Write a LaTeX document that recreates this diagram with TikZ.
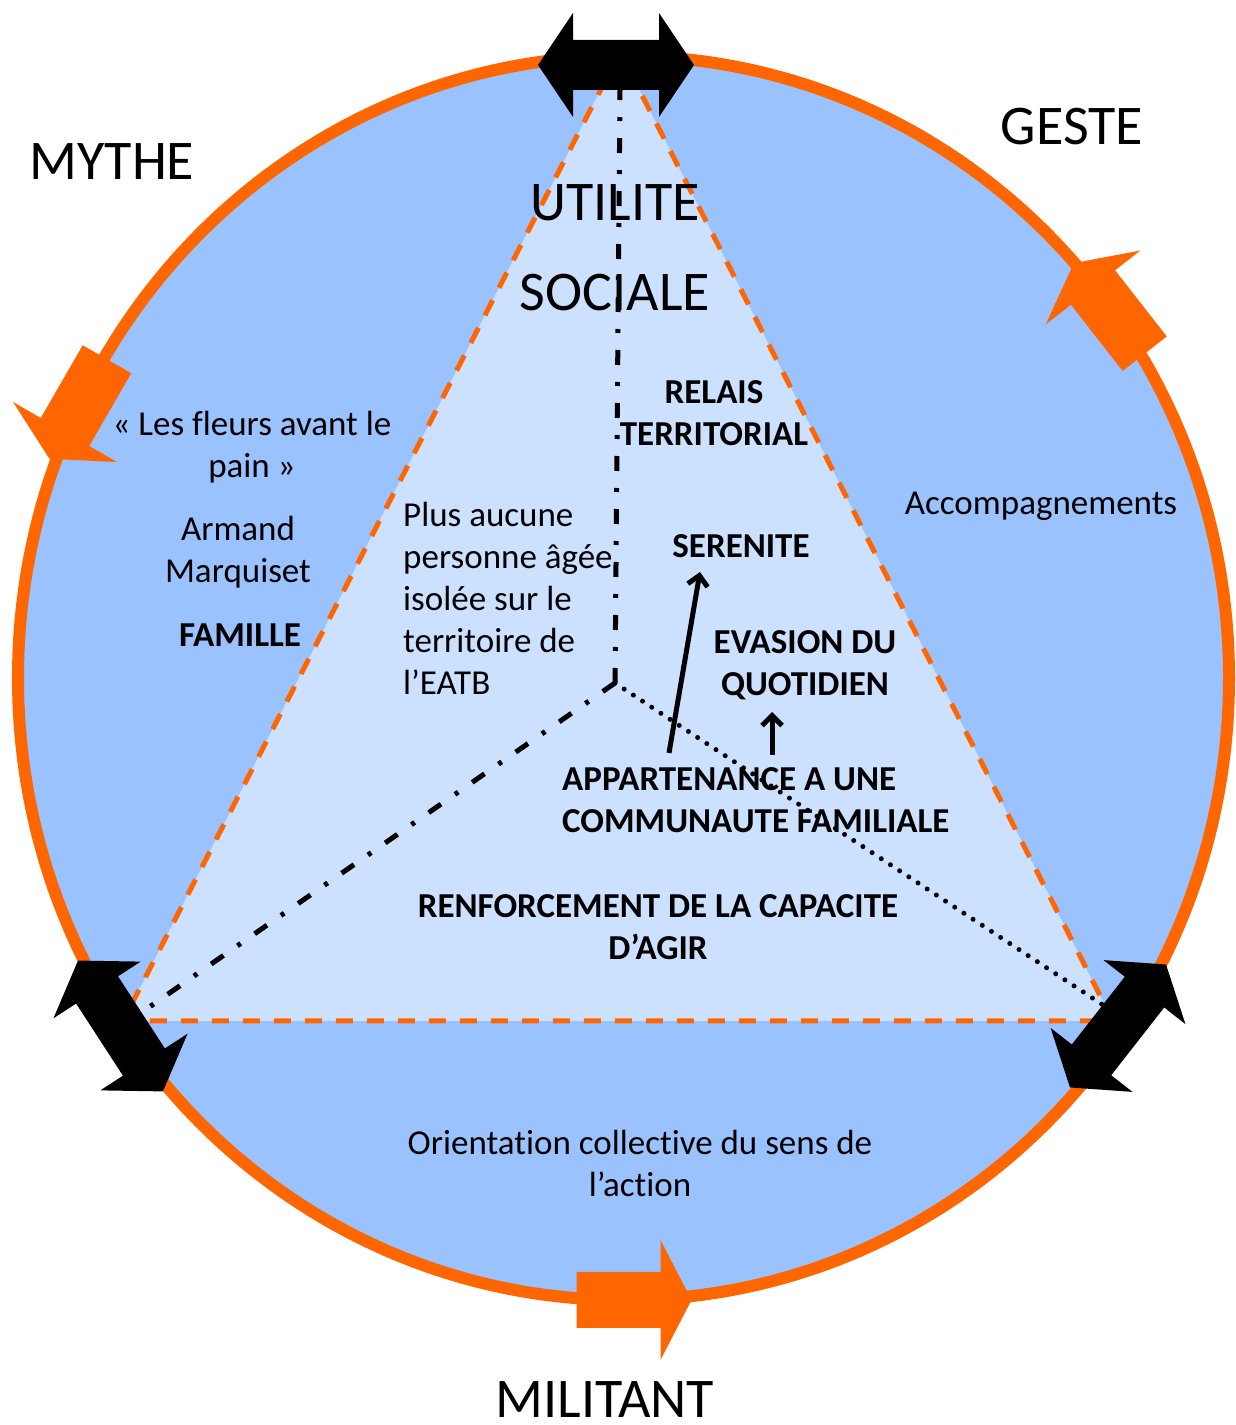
\documentclass[tikz,border=0pt]{standalone}
\usepackage{fontspec}
\setmainfont{Carlito}[Ligatures=NoCommon]
\usetikzlibrary{arrows.meta}
\definecolor{ringorange}{RGB}{255,102,0}
\definecolor{discblue}{RGB}{153,194,255}
\definecolor{wedgeblue}{RGB}{204,224,255}
\tikzset{
	txt/.style={inner sep=0pt, font=\fontsize{35}{42}\selectfont},
	boldtxt/.style={inner sep=0pt, font=\fontsize{35}{42}\selectfont\bfseries},
	title/.style={inner sep=0pt, font=\fontsize{56}{66}\selectfont},
	dashdot/.style={line width=5pt, dash pattern=on 15pt off 17pt on 4pt off 17pt},
	dotline/.style={line width=5pt, line cap=round, dash pattern=on 0pt off 11pt},
	dbl arrow/.pic={\fill[black] (-78,0) -- (-43,52) -- (-43,25) -- (43,25) -- (43,52) -- (78,0) -- (43,-52) -- (43,-25) -- (-43,-25) -- (-43,-52) -- cycle;},
	turn arrow/.pic={\fill[ringorange] (-58,-28) -- (26,-28) -- (26,-60) -- (57,0) -- (26,60) -- (26,28) -- (-58,28) -- cycle;}
}
\begin{document}
\begin{tikzpicture}[x=1pt, y=1pt]
	\useasboundingbox (0,0) rectangle (1236,1425);
	% Disc and triangle
	\draw[ringorange, line width=12pt, fill=discblue] (623.5,747) ellipse [x radius=605.5pt, y radius=622pt];
	\coordinate (apex) at (620,1373);
	\coordinate (baseL) at (123,404);
	\coordinate (baseR) at (1113,404);
	\fill[wedgeblue] (apex) -- (baseL) -- (baseR) -- cycle;
	\draw[ringorange, line width=5pt, dash pattern=on 17pt off 14pt] (apex) -- (baseL) -- (baseR) -- cycle;
	% Inner lines
	\coordinate (hub) at (615,742);
	\coordinate (topend) at (620,1335);
	\coordinate (leftend) at (148,417);
	\coordinate (rightend) at (1103,420);
	\draw[dashdot] (hub) -- (topend);
	\draw[dashdot] (hub) -- (leftend);
	\draw[dotline] (hub) -- (rightend);
	% Labels
	\node[title] (mythe) at (112,1263) {MYTHE};
	\node[title] (geste) at (1072,1298) {GESTE};
	\node[title] (militant) at (605,25) {MILITANT};
	\node[title] (utilite) at (615,1222) {UTILITE};
	\node[title] (sociale) at (615,1132) {SOCIALE};
	\node[txt, align=center] (fleurs) at (252,978) {« Les fleurs avant le\\pain »};
	\node[txt, align=center] (armand) at (238,873) {Armand\\Marquiset};
	\node[boldtxt] (famille) at (240,790) {FAMILLE};
	\node[txt, align=left, anchor=west] (isolee) at (403,827) {Plus aucune\\personne âgée\\isolée sur le\\territoire de\\l’EATB};
	\node[boldtxt, align=center] (relais) at (714,1012) {RELAIS\\TERRITORIAL};
	\node[boldtxt] (serenite) at (741,879) {SERENITE};
	\node[boldtxt, align=center] (evasion) at (805,760) {EVASION DU\\QUOTIDIEN};
	\node[boldtxt, align=left, anchor=west] (appart) at (562,625) {APPARTENANCE A UNE\\COMMUNAUTE FAMILIALE};
	\node[boldtxt, align=center] (renfort) at (658,498) {RENFORCEMENT DE LA CAPACITE\\D’AGIR};
	\node[txt] (accomp) at (1041,919) {Accompagnements};
	\node[txt, align=center] (orient) at (640,262) {Orientation collective du sens de\\l’action};
	% Arrows between labels
	\coordinate (lowA) at (669,672);
	\coordinate (highA) at (700,853);
	\coordinate (lowB) at (772,670);
	\coordinate (highB) at (772,713);
	\draw[line width=5pt, -{Straight Barb[length=10pt, width=20pt]}] (lowA) -- (highA);
	\draw[line width=5pt, -{Straight Barb[length=10pt, width=20pt]}] (lowB) -- (highB);
	% Arrows on the ring
	\pic at (616,1360) {dbl arrow};
	\pic[rotate=-57] at (120.5,399) {dbl arrow};
	\pic[rotate=52] at (1118,399) {dbl arrow};
	\pic at (634.5,125) {turn arrow};
	\pic[rotate=240] at (78,1015.5) {turn arrow};
	\pic[rotate=128] at (1109,1117) {turn arrow};
\end{tikzpicture}
\end{document}
